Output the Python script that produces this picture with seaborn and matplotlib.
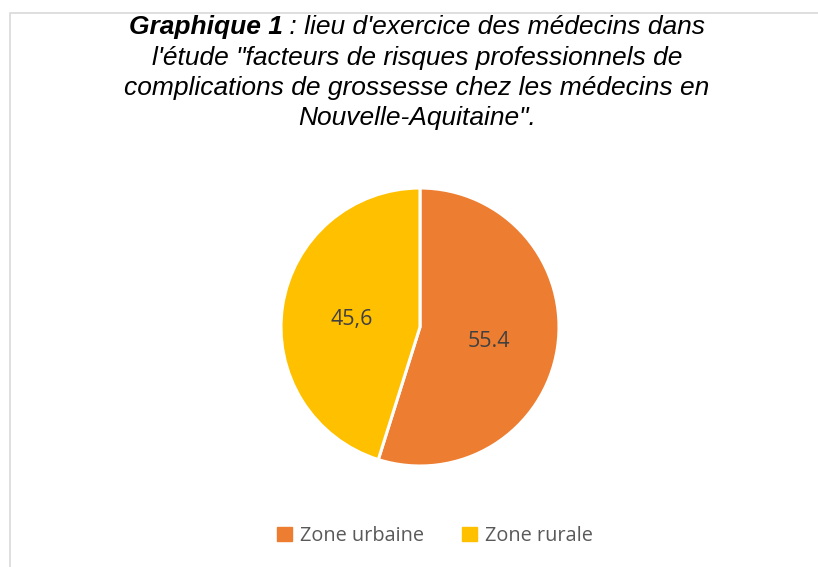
import matplotlib
matplotlib.use("Agg")
import matplotlib.pyplot as plt
from matplotlib.patches import Rectangle, Patch
import seaborn as sns
import numpy as np

sns.set_theme(style="white")
plt.rcParams['font.family'] = ['Liberation Sans', 'DejaVu Sans']

# Data
zones = ['Zone urbaine', 'Zone rurale']
valeurs = [55.4, 45.6]
etiquettes = ['55.4', '45,6']
couleurs = ['#ED7D31', '#FFC000']

titre_gras = 'Graphique 1'
titre_suite = " : lieu d'exercice des médecins dans"
titre_lignes = ["l'étude \"facteurs de risques professionnels de",
                'complications de grossesse chez les médecins en',
                'Nouvelle-Aquitaine".']

W, H = 818, 567
fig = plt.figure(figsize=(W / 100, H / 100), dpi=100)

# light frame (top and left border of the chart area)
fig.patches.append(Rectangle((10 / W, -0.1), 1.2, 1 - 13 / H + 0.1,
                             transform=fig.transFigure, fill=False,
                             edgecolor='#d9d9d9', linewidth=1.2))

# pie
cx, cy, r = 420, 327, 139
ax = fig.add_axes([(cx - r) / W, (H - cy - r) / H, 2 * r / W, 2 * r / H])
wedges, _ = ax.pie(valeurs, colors=couleurs, startangle=90, counterclock=False,
                   wedgeprops=dict(edgecolor='white', linewidth=2.2))
ax.set_xlim(-1, 1)
ax.set_ylim(-1, 1)
ax.set_aspect('auto')
ax.axis('off')

total = sum(valeurs)
start = 90.0
for v, lab in zip(valeurs, etiquettes):
    ang = start - v / total * 360 / 2
    start -= v / total * 360
    x = 0.5 * np.cos(np.radians(ang))
    y = 0.5 * np.sin(np.radians(ang)) - 0.025
    ax.text(x, y, lab, ha='center', va='center', fontsize=15.5,
            family=['Open Sans', 'DejaVu Sans'], color='#404040')

# title: first line with bold part
fig.canvas.draw()
rend = fig.canvas.get_renderer()
fs = 19
y1 = 1 - 27 / H
t1 = fig.text(0, y1, titre_gras, fontsize=fs, fontweight='bold', style='italic',
              va='center', ha='left', color='black')
t2 = fig.text(0, y1, titre_suite, fontsize=fs, style='italic',
              va='center', ha='left', color='black')
w1 = t1.get_window_extent(rend).width
w2 = t2.get_window_extent(rend).width
x0 = 417 - (w1 + w2) / 2
t1.set_x(x0 / W)
t2.set_x((x0 + w1) / W)
for i, ligne in enumerate(titre_lignes):
    fig.text(417 / W, 1 - (27 + 30.5 * (i + 1)) / H, ligne, fontsize=fs,
             style='italic', ha='center', va='center', color='black')

# legend
handles = [Patch(facecolor=c, edgecolor=c) for c in couleurs]
leg = fig.legend(handles, zones, loc='center', bbox_to_anchor=(435 / W, 1 - 536 / H),
                 ncol=2, frameon=False, handlelength=0.75, handleheight=0.75,
                 handletextpad=0.4, columnspacing=1.9,
                 prop={'family': ['Open Sans', 'DejaVu Sans'], 'size': 14.3})
for t in leg.get_texts():
    t.set_color('#595959')

fig.savefig('out.png', dpi=100, facecolor='white')
